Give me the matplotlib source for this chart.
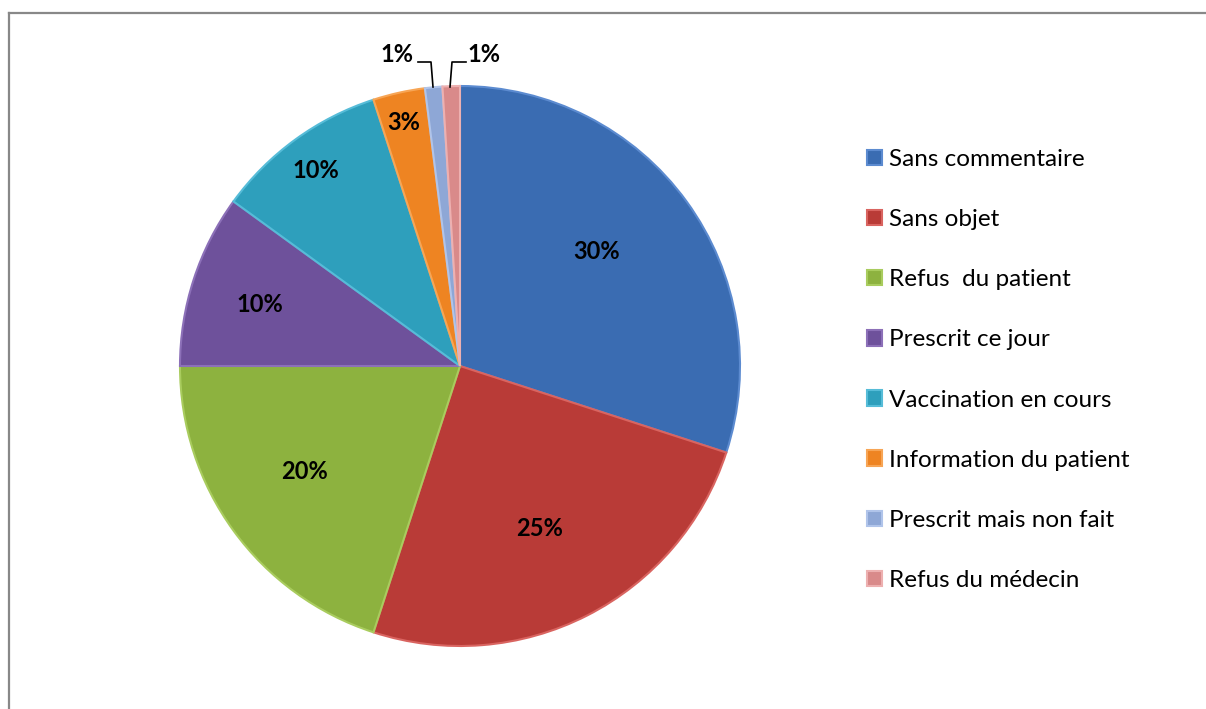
import numpy as np
import matplotlib.pyplot as plt
from matplotlib.lines import Line2D

plt.rcParams['font.family'] = ['Lato', 'DejaVu Sans']

categories = ['Sans commentaire', 'Sans objet', 'Refus  du patient', 'Prescrit ce jour',
              'Vaccination en cours', 'Information du patient', 'Prescrit mais non fait',
              'Refus du médecin']
values = [30, 25, 20, 10, 10, 3, 1, 1]
labels = ['30%', '25%', '20%', '10%', '10%', '3%', '1%', '1%']
colors = ['#3A6CB2', '#B93B37', '#8DB23F', '#6E519B', '#2E9FBC', '#EE8422', '#8EA7D6', '#D98A8A']
edges = ['#5C8BD0', '#D96460', '#A9CC5E', '#8C70B8', '#56BCD8', '#F7A555', '#B0C4EA', '#EDB0B0']

W, H = 1206, 709
fig = plt.figure(figsize=(W / 100, H / 100), dpi=100)

# chart frame (top and left edges only are inside the image)
fig.add_artist(Line2D([9 / W, 1], [1 - 13 / H, 1 - 13 / H], color='#888888', lw=1.6))
fig.add_artist(Line2D([9 / W, 9 / W], [0, 1 - 13 / H], color='#888888', lw=1.6))

cx, cy, r = 460, 366, 280
ax = fig.add_axes([(cx - r) / W, (H - cy - r) / H, 2 * r / W, 2 * r / H])
wedges, _ = ax.pie(values, colors=colors, startangle=90, counterclock=False, radius=1,
                   wedgeprops=dict(linewidth=1.5))
for w, ec in zip(wedges, edges):
    w.set_edgecolor(ec)
ax.set_xlim(-1, 1)
ax.set_ylim(-1, 1)
ax.axis('off')

def px2d(x, y):
    return (x - cx) / r, (cy - y) / r

# data labels placed in pixel coordinates relative to the pie centre
inner_pos = [(597, 252), (540, 528), (305, 472), (260, 305), (316, 171), (404, 122)]
for lab, (px, py) in zip(labels[:6], inner_pos):
    ax.text(*px2d(px, py), lab, ha='center', va='center',
            fontsize=17, fontweight='bold', color='black')

# small slices: labels outside with leader lines
ax.text(*px2d(397, 55), labels[6], ha='center', va='center', fontsize=17, fontweight='bold',
        clip_on=False)
ax.text(*px2d(484, 55), labels[7], ha='center', va='center', fontsize=17, fontweight='bold',
        clip_on=False)
for pts in ([(418, 62), (431, 62), (433, 87)], [(466, 62), (452, 62), (450, 87)]):
    xs, ys = zip(*[px2d(x, y) for x, y in pts])
    ax.plot(xs, ys, color='black', lw=1.2, clip_on=False)

leg = fig.legend(wedges, categories, loc='upper left', bbox_to_anchor=(867 / W, 1 - 149 / H),
                 frameon=False, fontsize=17.5, handlelength=0.6, handleheight=0.6,
                 handletextpad=0.3, labelspacing=1.61, borderpad=0, borderaxespad=0)

fig.savefig('out.png', dpi=100)
